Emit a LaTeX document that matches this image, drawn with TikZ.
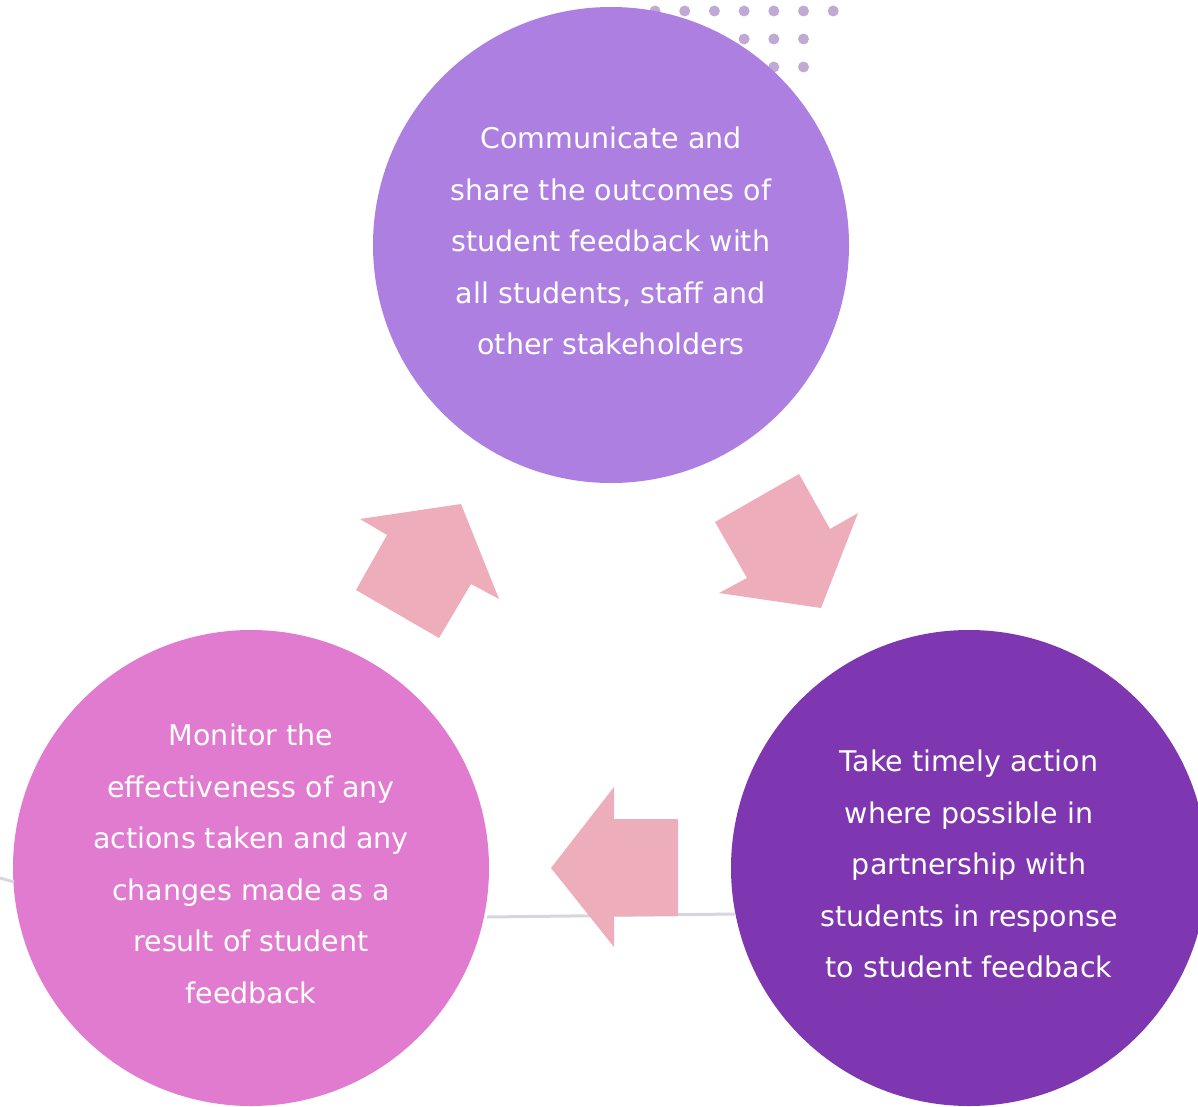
\documentclass[tikz,border=0pt]{standalone}
\usepackage{fontspec}
\setmainfont{DejaVu Sans}
\usepackage{tikz}
\usetikzlibrary{positioning}

\definecolor{topviolet}{HTML}{AD7FE1}
\definecolor{leftpink}{HTML}{E07BCF}
\definecolor{rightpurple}{HTML}{7F37B1}
\definecolor{arrowpink}{HTML}{EEADBA}
\definecolor{dotgrey}{HTML}{C0A9D2}
\definecolor{lineGrey}{HTML}{D8D4E0}

\begin{document}
\begin{tikzpicture}[
    x=1pt,
    y=-1pt
]


\tikzstyle{stage}=[
    circle,
    minimum size=476pt,
    inner sep=0pt,
    align=center,
    text=white,
    font=\fontsize{28.5}{51.5}\selectfont
]
\tikzstyle{bigarrow}=[
    fill=arrowpink
]
\tikzstyle{track}=[
    lineGrey,
    line width=3pt
]


\useasboundingbox (0,0) rectangle (1198,1107);
\clip (0,0) rectangle (1198,1107);


% dots behind the top circle
\foreach \row/\last in {11/6, 39/5, 67/5}
    \foreach \col in {0,...,\last}
        \fill[dotgrey] (655+29.7*\col, \row) circle (5.5);


\node[stage, fill=topviolet] (share) at (611,245) {};
\node[stage, fill=leftpink] (monitor) at (251,868) {};
\node[stage, fill=rightpurple] (act) at (969,868) {};


% grey line
\coordinate (lineL) at (487,917);
\coordinate (lineR) at (735,914);
\draw[track] (lineL) -- (lineR);
\coordinate (lineW0) at (0,878);
\coordinate (lineW) at (14,882);
\draw[track] (lineW0) -- (lineW);


% arrows
\fill[bigarrow] (360,519) -- (461,504) -- (499,599) -- (471,584)
    -- (439,638) -- (356,590) -- (387,535) -- cycle;
\fill[bigarrow] (715,522) -- (799,474) -- (830,529) -- (858,513)
    -- (821,608) -- (719,593) -- (747,578) -- cycle;
\fill[bigarrow] (551,868) -- (614,787) -- (614,819) -- (678,819)
    -- (678,916) -- (614,916) -- (614,947) -- cycle;


% texts
\node[stage, minimum size=0pt] at ([yshift=4pt]share.center) {Communicate and\\share the outcomes of\\student feedback with\\all students, staff and\\other stakeholders};
\node[stage, minimum size=0pt] at ([yshift=4pt]monitor.center) {Monitor the\\effectiveness of any\\actions taken and any\\changes made as a\\result of student\\feedback};
\node[stage, minimum size=0pt] at ([yshift=4pt]act.center) {Take timely action\\where possible in\\partnership with\\students in response\\to student feedback};

\end{tikzpicture}
\end{document}
